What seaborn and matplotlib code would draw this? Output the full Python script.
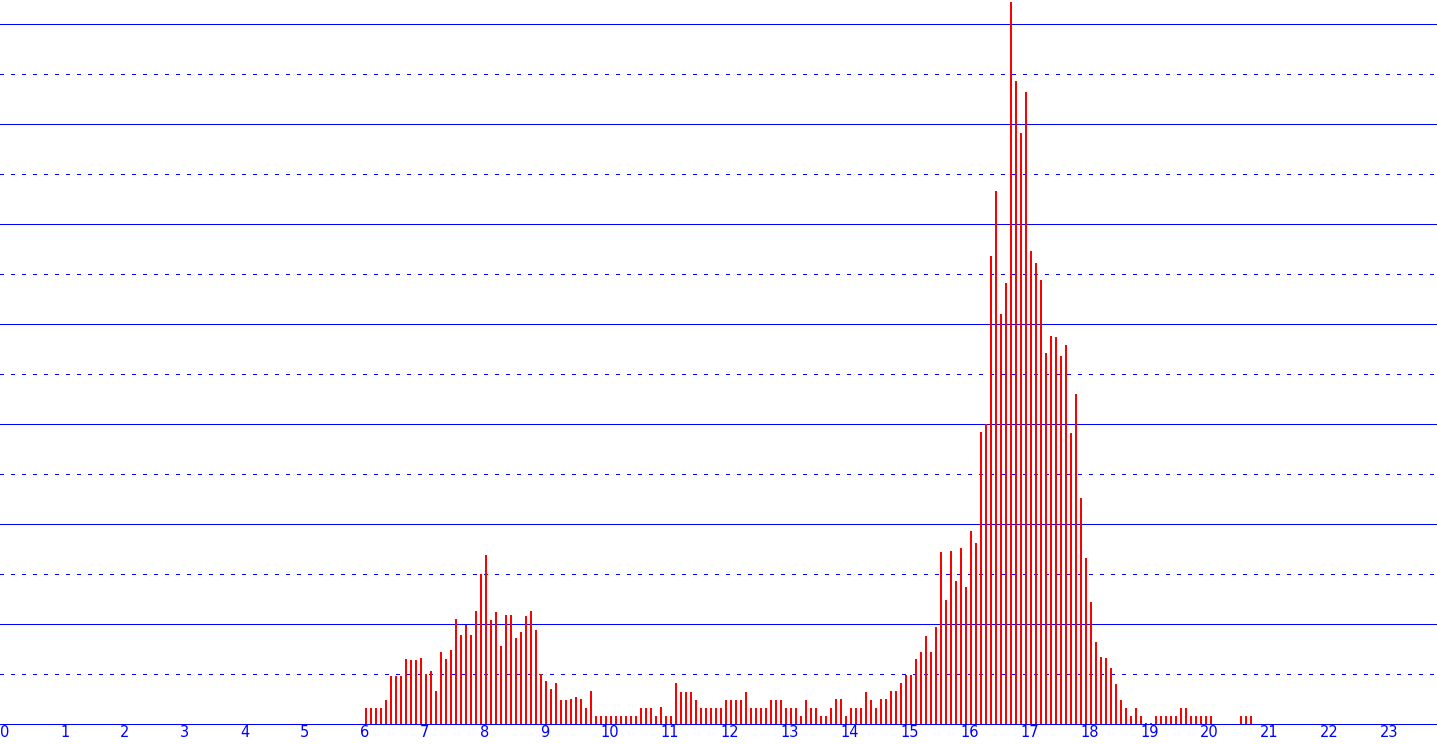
import numpy as np
import pandas as pd
import matplotlib
matplotlib.use('Agg')
import matplotlib.pyplot as plt
import seaborn as sns

# 1. Data
# 5-minute bins, first bar ends at 6:05; minutes after midnight
first_bin = 365
bin_step = 5

# bar heights, in chart units (one grid step = 50)
heights = [
    16, 16, 16, 16, 24, 48, 48, 48, 65, 64,
    64, 66, 50, 53, 33, 72, 65, 74, 105, 89,
    99, 89, 113, 150, 169, 104, 112, 78, 109, 109,
    86, 92, 108, 113, 94, 50, 43, 35, 41, 24,
    24, 25, 27, 25, 16, 33, 8, 8, 8, 8,
    8, 8, 8, 8, 8, 16, 16, 16, 8, 17,
    8, 8, 41, 32, 32, 32, 24, 16, 16, 16,
    16, 16, 24, 24, 24, 24, 32, 16, 16, 16,
    16, 24, 24, 24, 16, 16, 16, 8, 24, 16,
    16, 8, 8, 16, 25, 25, 8, 16, 16, 16,
    32, 24, 16, 25, 25, 33, 33, 41, 49, 49,
    65, 72, 88, 72, 97, 172, 124, 173, 143, 176,
    137, 193, 181, 292, 300, 468, 533, 410, 441, 722,
    643, 591, 632, 473, 461, 444, 371, 388, 387, 368,
    379, 291, 330, 226, 166, 122, 82, 67, 66, 56,
    40, 24, 16, 8, 16, 8, 1, 1, 8, 8,
    8, 8, 8, 16, 16, 8, 8, 8, 8, 8,
    0, 0, 0, 0, 0, 8, 8, 8,
]

hour_labels = [str(h) for h in range(24)]
solid_levels = [100, 200, 300, 400, 500, 600, 700]
dotted_levels = [50, 150, 250, 350, 450, 550, 650]

minutes = first_bin + bin_step * np.arange(len(heights))
df = pd.DataFrame({'minute': minutes + 1, 'height': heights})  # bars hang just right of the bin mark

# 2. Figure
sns.set_style('white')
plt.rcParams['font.family'] = ['DejaVu Sans']
# the original is a crisp bitmap chart
plt.rcParams['lines.antialiased'] = False
plt.rcParams['patch.antialiased'] = False

fig = plt.figure(figsize=(14.37, 7.44), dpi=100)
ax = fig.add_axes([0, 20 / 744, 1, 724 / 744])

blue = '#0000ff'
px = 72 / 100  # one pixel in points

for lvl in solid_levels:
    ax.axhline(lvl, color=blue, lw=px, zorder=0)
for lvl in dotted_levels:
    ax.axhline(lvl, color=blue, lw=px, ls=(0, (3, 7)), zorder=0)

sns.barplot(data=df, x='minute', y='height', native_scale=True, width=0.4,
            color='#ff0000', saturation=1, errorbar=None, linewidth=0, ax=ax)
for bar in ax.patches:
    bar.set_antialiased(False)
    bar.set_snap(False)

# 3. Axes
ax.set_xlim(0, 1437)
ax.set_ylim(0, 724)
ax.set_xlabel('')
ax.set_ylabel('')
ax.set_yticks([])
ax.set_xticks([60 * h for h in range(24)])
ax.set_xticklabels(hour_labels, ha='left', color=blue, fontsize=10.5)
ax.tick_params(axis='x', length=0, pad=1)

for side in ['top', 'left', 'right']:
    ax.spines[side].set_visible(False)
ax.spines['bottom'].set_color(blue)
ax.spines['bottom'].set_linewidth(px)
ax.spines['bottom'].set_antialiased(False)

fig.savefig('out.png', dpi=100)
